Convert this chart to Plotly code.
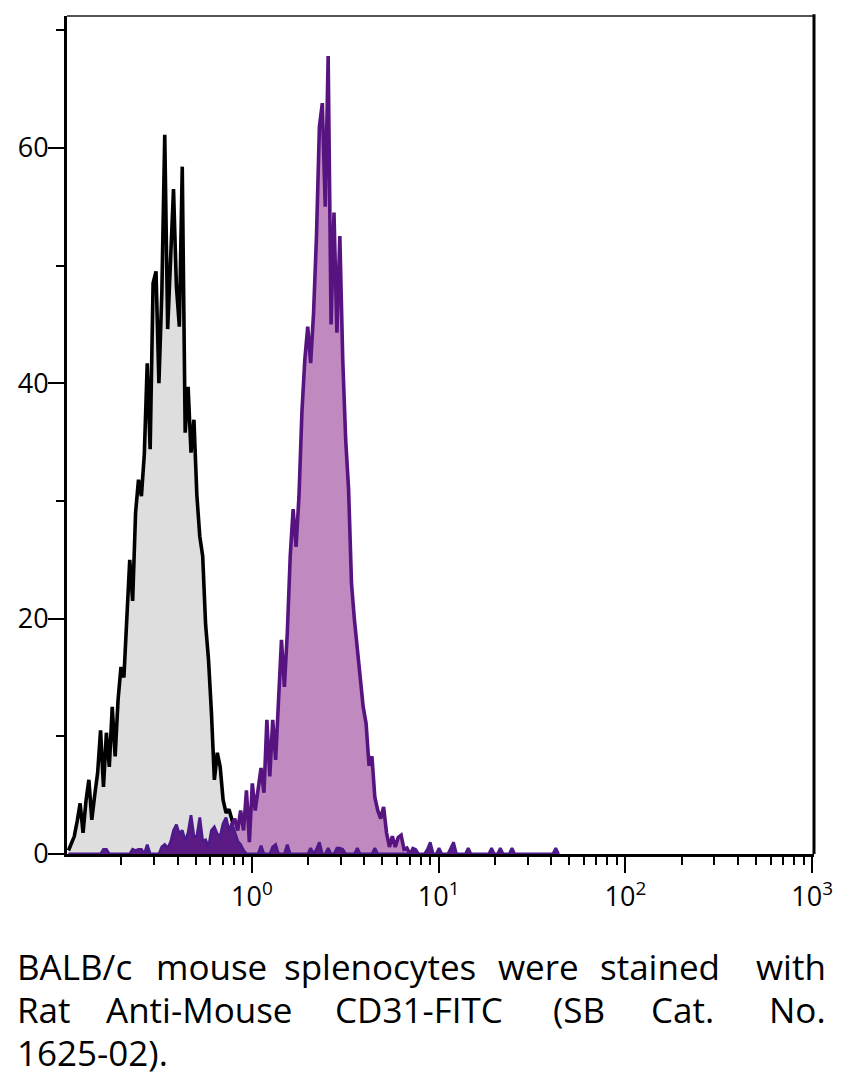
import numpy as np
import plotly.graph_objects as go

# ---------------- data ----------------
# 256 logarithmic channels spanning the displayed axis (log10 units)
LOG_MIN = -0.99
LOG_MAX = 3.01
N_CHANNELS = 256

# unstained / control histogram (grey), starts at channel 0
gray_start = 0
gray_counts = [0.3, 1.0, 1.5, 2.8, 4.3, 1.8, 4.5, 6.3, 2.9, 5.0,
               6.9, 10.5, 5.7, 10.3, 7.4, 12.5, 8.3, 13.1, 15.9, 15.0,
               19.9, 25.0, 21.5, 29.0, 31.8, 30.4, 34.0, 41.7, 34.4, 48.5,
               49.5, 40.0, 47.7, 61.1, 44.6, 50.8, 56.5, 48.2, 44.8, 58.4,
               35.8, 39.7, 34.1, 36.9, 30.5, 27.0, 25.3, 19.5, 16.5, 12.0,
               6.3, 8.6, 7.4, 4.6, 3.5, 3.8, 2.9, 2.0, 1.2, 0.6,
               0.3, 0.0]

# CD31-FITC stained histogram (purple), starts at channel 55
purple_start = 55
purple_counts = [1.5, 2.5, 3.0, 2.0, 3.7, 2.0, 5.4, 1.0, 6.0, 3.7,
                 5.5, 7.3, 5.2, 11.4, 6.6, 11.4, 8.0, 13.7, 18.2, 14.2,
                 18.8, 25.3, 29.3, 26.1, 30.4, 37.5, 42.0, 44.8, 41.7, 46.0,
                 52.5, 61.8, 63.8, 55.0, 67.8, 45.0, 54.5, 44.3, 52.5, 42.0,
                 35.2, 31.0, 23.0, 19.9, 17.5, 15.0, 12.5, 11.1, 7.5, 8.3,
                 4.8, 3.7, 3.0, 4.0, 1.8, 0.6, 1.5, 0.6, 1.4, 1.6,
                 0.4, 0.5, 0.0]

# low-level dark-purple population (sparse channels)
dark_channels = [12, 13, 22, 23, 24, 25, 27, 32, 33, 34,
                 35, 36, 37, 38, 39, 40, 41, 42, 43, 44,
                 45, 46, 47, 48, 49, 50, 51, 52, 53, 54,
                 55, 56, 57, 58, 59, 60, 66, 70, 71, 75,
                 83, 85, 86, 89, 92, 93, 94, 99, 105, 118,
                 119, 123, 124, 127, 131, 132, 137, 145, 148, 152,
                 167]
dark_counts = [0.4, 0.4, 0.4, 0.3, 0.4, 0.4, 0.8, 0.6, 0.8, 0.5,
               1.0, 2.0, 2.5, 1.7, 2.0, 1.1, 1.8, 3.3, 1.5, 1.5,
               3.1, 1.1, 1.2, 0.6, 2.0, 2.3, 1.7, 1.5, 2.6, 3.1,
               2.0, 2.6, 1.8, 1.1, 0.8, 0.3, 0.7, 0.6, 0.8, 0.8,
               0.5, 0.4, 1.0, 0.5, 0.5, 0.5, 0.4, 0.5, 0.5, 0.5,
               0.4, 0.4, 1.0, 0.5, 0.5, 1.0, 0.5, 0.5, 0.5, 0.5,
               0.5]

x_tick_vals = [1, 10, 100, 1000]
x_tick_text = ["10<sup>0</sup>", "10<sup>1</sup>", "10<sup>2</sup>", "10<sup>3</sup>"]
x_minor_vals = [0.2, 0.3, 0.4, 0.5, 0.6, 0.7, 0.8, 0.9,
                2, 3, 4, 5, 6, 7, 8, 9,
                20, 30, 40, 50, 60, 70, 80, 90,
                200, 300, 400, 500, 600, 700, 800, 900]
y_tick_vals = [0, 20, 40, 60]
y_minor_vals = [10, 30, 50, 70]
Y_MAX = 71.2

caption_lines = [
    ["BALB/c", "mouse", "splenocytes", "were", "stained", "with"],
    ["Rat", "Anti-Mouse", "CD31-FITC", "(SB", "Cat.", "No."],
    ["1625-02)."],
]

# ---------------- build ----------------
step = (LOG_MAX - LOG_MIN) / N_CHANNELS
centers = 10 ** (LOG_MIN + (np.arange(N_CHANNELS) + 0.5) * step)

gx = centers[gray_start:gray_start + len(gray_counts)]
px_ = centers[purple_start:purple_start + len(purple_counts)]
dark_dense = np.zeros(max(dark_channels) + 2)
dark_dense[dark_channels] = dark_counts
dx = centers[:len(dark_dense)]

FONT = "Open Sans"

fig = go.Figure()
fig.add_trace(go.Scatter(x=gx, y=gray_counts, mode="lines", fill="tozeroy",
                         fillcolor="#dedede", line=dict(color="black", width=3.6),
                         hoverinfo="skip"))
fig.add_trace(go.Scatter(x=px_, y=purple_counts, mode="lines", fill="tozeroy",
                         fillcolor="#c08ac0", line=dict(color="#571481", width=3.6),
                         hoverinfo="skip"))
fig.add_trace(go.Scatter(x=dx, y=dark_dense, mode="lines", fill="tozeroy",
                         fillcolor="#5c1a84", line=dict(color="#4d1a8a", width=2.8),
                         hoverinfo="skip"))

axis_common = dict(showgrid=False, zeroline=False, showline=True, linecolor="black",
                   linewidth=3, ticks="outside", tickcolor="black", tickwidth=2,
                   ticklen=16, tickfont=dict(family=FONT, size=27, color="black"))

fig.update_xaxes(type="log", range=[LOG_MIN, LOG_MAX], tickvals=x_tick_vals,
                 ticktext=x_tick_text, ticklabelstandoff=1,
                 minor=dict(tickvals=x_minor_vals, ticks="outside", ticklen=8,
                            tickwidth=2, tickcolor="black", showgrid=False),
                 **axis_common)
fig.update_yaxes(range=[0, Y_MAX], tickvals=y_tick_vals, ticklabelstandoff=-6,
                 minor=dict(tickvals=y_minor_vals, ticks="outside", ticklen=8,
                            tickwidth=2, tickcolor="black", showgrid=False),
                 **axis_common)

# frame: grey top, black right
fig.add_shape(type="line", xref="paper", yref="paper", x0=0, x1=1, y0=1, y1=1,
              line=dict(color="#555555", width=2))
fig.add_shape(type="line", xref="paper", yref="paper", x0=1, x1=1, y0=0, y1=1.002,
              line=dict(color="black", width=3))

# caption (justified: first word left, last word right, others centred)
ML, MR, MT, MB = 67, 28, 16, 236
W, H = 845, 1090
PW, PH = W - ML - MR, H - MT - MB
word_centers = [
    [None, 212, 381, 540, 662, None],
    [None, 200, 420, 581, 685, None],
    [None],
]
line_y = [966, 1009, 1052]
left_px, right_px = 15, 831
for words, cents, ly in zip(caption_lines, word_centers, line_y):
    yp = (H - MB - ly) / PH
    for j, (w, c) in enumerate(zip(words, cents)):
        if j == 0:
            xpx, anchor = left_px, "left"
        elif j == len(words) - 1:
            xpx, anchor = right_px, "right"
        else:
            xpx, anchor = c, "center"
        fig.add_annotation(text=w, xref="paper", yref="paper",
                           x=(xpx - ML) / PW, y=yp, xanchor=anchor, yanchor="middle",
                           showarrow=False,
                           font=dict(family=FONT, size=35, color="#000000"))

fig.update_layout(width=W, height=H, margin=dict(l=ML, r=MR, t=MT, b=MB),
                  plot_bgcolor="white", paper_bgcolor="white", showlegend=False)

fig.write_html("out.html")
